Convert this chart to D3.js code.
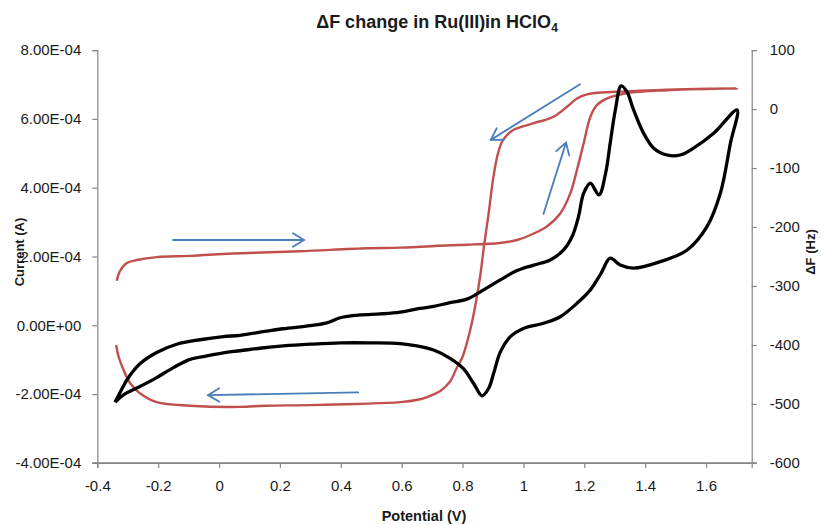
<!DOCTYPE html>
<html>
<head>
<meta charset="utf-8">
<script src="https://cdn.jsdelivr.net/npm/d3@7"></script>
<style>
  html, body { margin: 0; padding: 0; background: #fff; }
  svg { display: block; }
  text { font-family: "Liberation Sans", Arial, sans-serif; }
</style>
</head>
<body>
<svg id="chart" width="828" height="525"></svg>
<script>
// ---------- DATA ----------
const xTicks = [-0.4, -0.2, 0, 0.2, 0.4, 0.6, 0.8, 1, 1.2, 1.4, 1.6];
const xTickLabels = ["-0.4", "-0.2", "0", "0.2", "0.4", "0.6", "0.8", "1", "1.2", "1.4", "1.6"];
const leftTicks = [8e-4, 6e-4, 4e-4, 2e-4, 0, -2e-4, -4e-4];
const leftTickLabels = ["8.00E-04", "6.00E-04", "4.00E-04", "2.00E-04", "0.00E+00", "-2.00E-04", "-4.00E-04"];
const rightTicks = [100, 0, -100, -200, -300, -400, -500, -600];
const rightTickLabels = ["100", "0", "-100", "-200", "-300", "-400", "-500", "-600"];

// Cyclic voltammogram (current, A) — forward scan then reverse scan
const cvPotential = [
  -0.342, -0.315, -0.303, -0.26, -0.205, -0.139, -0.062, 0.014, 0.069, 0.15, 0.211, 0.30, 0.354, 0.398, 0.464, 0.53,
  0.595, 0.661, 0.705, 0.759, 0.814, 0.869, 0.924, 0.979, 1.034, 1.088, 1.132, 1.16, 1.181, 1.198, 1.22, 1.248,
  1.27, 1.285, 1.302, 1.321, 1.34, 1.362, 1.395, 1.428, 1.472, 1.515, 1.559, 1.625, 1.702,
  1.68, 1.647, 1.603, 1.538, 1.45, 1.362, 1.318, 1.285, 1.255, 1.22, 1.176, 1.121, 1.066, 1.0, 0.957, 0.924,
  0.902, 0.886, 0.864, 0.837, 0.803, 0.759, 0.705, 0.65, 0.595, 0.50, 0.40, 0.30, 0.211, 0.14, 0.069, 0.014,
  -0.04, -0.095, -0.15, -0.205, -0.26, -0.315, -0.342
];
const cvCurrent = [
  -2.24e-4, -1.78e-4, -1.59e-4, -1.12e-4, -0.79e-4, -0.55e-4, -0.42e-4, -0.33e-4, -0.29e-4, -0.18e-4, -0.10e-4, -0.01e-4, 0.07e-4, 0.22e-4, 0.30e-4, 0.33e-4,
  0.38e-4, 0.49e-4, 0.55e-4, 0.66e-4, 0.76e-4, 1.03e-4, 1.32e-4, 1.59e-4, 1.75e-4, 1.90e-4, 2.19e-4, 2.58e-4, 3.16e-4, 3.84e-4, 4.13e-4, 3.79e-4,
  4.42e-4, 5.29e-4, 6.26e-4, 6.96e-4, 6.79e-4, 6.26e-4, 5.58e-4, 5.15e-4, 4.95e-4, 4.95e-4, 5.15e-4, 5.58e-4, 6.26e-4,
  5.29e-4, 3.84e-4, 2.87e-4, 2.19e-4, 1.85e-4, 1.66e-4, 1.75e-4, 1.95e-4, 1.51e-4, 1.03e-4, 0.64e-4, 0.25e-4, 0.06e-4, -0.09e-4, -0.33e-4, -0.78e-4,
  -1.40e-4, -1.83e-4, -2.05e-4, -1.70e-4, -1.26e-4, -0.96e-4, -0.72e-4, -0.60e-4, -0.53e-4, -0.51e-4, -0.51e-4, -0.55e-4, -0.60e-4, -0.66e-4, -0.74e-4, -0.80e-4,
  -0.89e-4, -0.99e-4, -1.23e-4, -1.52e-4, -1.78e-4, -2.03e-4, -2.24e-4
];

// Frequency change (Hz) — forward scan then reverse scan
const dfPotential = [
  -0.336, -0.326, -0.303, -0.27, -0.205, -0.095, 0.047, 0.266, 0.486, 0.595, 0.759, 0.814, 0.923, 0.979, 1.034, 1.077,
  1.121, 1.154, 1.176, 1.198, 1.22, 1.242, 1.275, 1.341, 1.472, 1.702,
  1.472, 1.341, 1.252, 1.209, 1.176, 1.143, 1.099, 1.034, 0.968, 0.95, 0.93, 0.915, 0.9, 0.885, 0.871, 0.858, 0.843,
  0.825, 0.80, 0.78, 0.759, 0.727, 0.69, 0.661, 0.595, 0.45, 0.30, 0.15, 0.069, -0.095, -0.205, -0.26, -0.292,
  -0.314, -0.33, -0.338
];
const dfValue = [
  -291, -275, -261, -256, -251, -249, -245, -241, -236, -235, -231, -230, -227, -222, -211, -199,
  -177, -143, -103, -58, -13, 7, 18, 27, 32, 35,
  33, 30, 28, 25, 18, 4, -13, -24, -35, -42, -55, -78, -120, -180, -230, -283, -330,
  -375, -420, -440, -462, -478, -487, -492, -497, -500, -502, -503, -505, -503, -497, -482, -465,
  -442, -420, -400
];

// Scan-direction arrows (start/end in potential and current units)
const arrowX1 = [-0.151, 1.186, 1.066, 0.457];
const arrowY1 = [2.48e-4, 7.01e-4, 3.24e-4, -1.95e-4];
const arrowX2 = [0.279, 0.893, 1.14, -0.036];
const arrowY2 = [2.48e-4, 5.39e-4, 5.31e-4, -2.03e-4];

// ---------- CHART ----------
const svg = d3.select("#chart");
const L = 97.3, R = 751.7, T = 50.1, B = 462.9;
const x = d3.scaleLinear().domain([-0.4, 1.75]).range([L, R]);
const yL = d3.scaleLinear().domain([-4e-4, 8e-4]).range([B, T]);
const yR = d3.scaleLinear().domain([-600, 100]).range([B, T]);
const axisColor = "#868686";
const labelColor = "#1a1a1a";

// Axes
const gx = svg.append("g").attr("transform", `translate(0,${B})`)
  .call(d3.axisBottom(x).tickValues(xTicks).tickFormat((d, i) => xTickLabels[i]).tickSizeOuter(0).tickSize(5).tickPadding(12));
const gl = svg.append("g").attr("transform", `translate(${L},0)`)
  .call(d3.axisLeft(yL).tickValues(leftTicks).tickFormat((d, i) => leftTickLabels[i]).tickSizeOuter(0).tickSize(5).tickPadding(11));
const gr = svg.append("g").attr("transform", `translate(${R},0)`)
  .call(d3.axisRight(yR).tickValues(rightTicks).tickFormat((d, i) => rightTickLabels[i]).tickSizeOuter(0).tickSize(5).tickPadding(13));
[gx, gl, gr].forEach(g => {
  g.selectAll("path.domain").attr("stroke", axisColor).attr("stroke-width", 1.2);
  g.selectAll(".tick line").attr("stroke", axisColor).attr("stroke-width", 1.2);
  g.selectAll(".tick text").attr("fill", labelColor).style("font-size", "15px")
    .style("font-family", "'Liberation Sans', Arial, sans-serif");
});
// extend bottom axis slightly beyond left/right axes like Excel
svg.append("line").attr("x1", L - 5).attr("x2", R + 5).attr("y1", B).attr("y2", B)
  .attr("stroke", axisColor).attr("stroke-width", 1.2);

// Lines
const cvData = cvPotential.map((p, i) => [p, cvCurrent[i]]);
const dfData = dfPotential.map((p, i) => [p, dfValue[i]]);

svg.append("path").datum(dfData)
  .attr("fill", "none").attr("stroke", "#C0504D").attr("stroke-width", 2.4)
  .attr("stroke-linejoin", "round")
  .attr("d", d3.line().x(d => x(d[0])).y(d => yR(d[1])).curve(d3.curveCatmullRom.alpha(0.5)));

svg.append("path").datum(cvData)
  .attr("fill", "none").attr("stroke", "#000").attr("stroke-width", 3.3)
  .attr("stroke-linejoin", "round")
  .attr("d", d3.line().x(d => x(d[0])).y(d => yL(d[1])).curve(d3.curveCatmullRom.alpha(0.5)));

// Arrows
const arrowColor = "#4A7EBB";
arrowX1.forEach((_, i) => {
  const x1 = x(arrowX1[i]), y1 = yL(arrowY1[i]), x2 = x(arrowX2[i]), y2 = yL(arrowY2[i]);
  const ang = Math.atan2(y2 - y1, x2 - x1);
  const hl = 13, hw = 0.55;
  const g = svg.append("g").attr("stroke", arrowColor).attr("stroke-width", 1.8).attr("fill", "none")
    .attr("stroke-linecap", "round");
  g.append("line").attr("x1", x1).attr("y1", y1).attr("x2", x2).attr("y2", y2);
  g.append("path").attr("d",
    `M${x2 - hl * Math.cos(ang - hw)},${y2 - hl * Math.sin(ang - hw)} L${x2},${y2} L${x2 - hl * Math.cos(ang + hw)},${y2 - hl * Math.sin(ang + hw)}`);
});

// Titles
const title = svg.append("text").attr("x", 437).attr("y", 28).attr("text-anchor", "middle")
  .style("font-size", "18px").style("font-weight", "bold").attr("fill", "#1a1a1a");
title.append("tspan").text("ΔF change in Ru(III)in HClO");
title.append("tspan").text("4").attr("dy", 4).style("font-size", "12px");

svg.append("text").attr("transform", "translate(24,252) rotate(-90)").attr("text-anchor", "middle")
  .style("font-size", "13px").style("font-weight", "bold").attr("fill", "#1a1a1a").text("Current (A)");
svg.append("text").attr("transform", "translate(815,252) rotate(-90)").attr("text-anchor", "middle")
  .style("font-size", "13px").style("font-weight", "bold").attr("fill", "#1a1a1a").text("ΔF (Hz)");
svg.append("text").attr("x", 424).attr("y", 521).attr("text-anchor", "middle")
  .style("font-size", "14.5px").style("font-weight", "bold").attr("fill", "#1a1a1a").text("Potential (V)");
</script>
</body>
</html>
